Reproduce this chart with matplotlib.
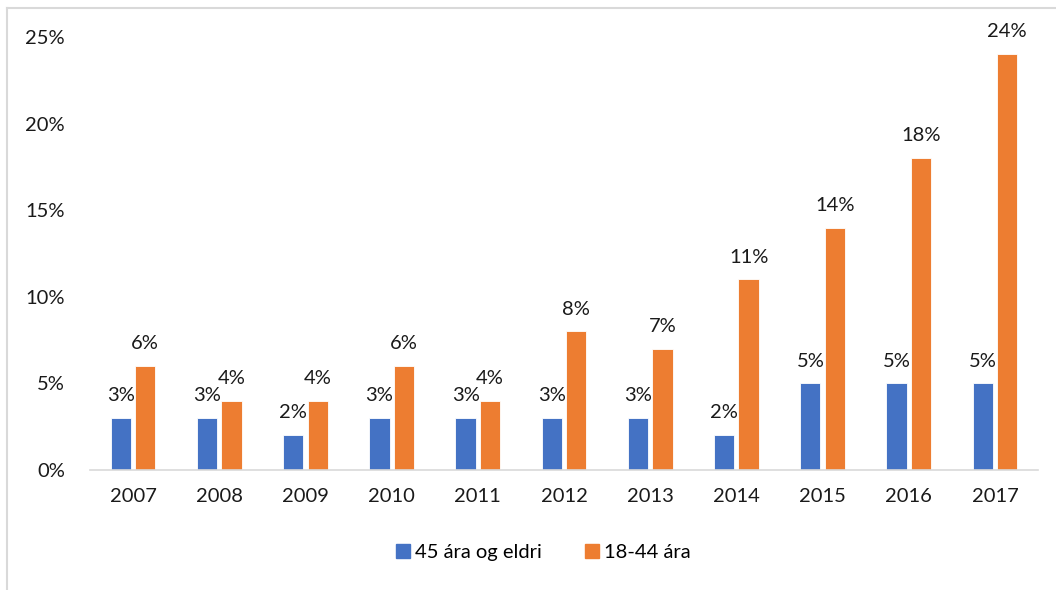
import numpy as np
import matplotlib.pyplot as plt
from matplotlib.lines import Line2D

plt.rcParams['font.family'] = ['Lato', 'DejaVu Sans']

years = ['2007', '2008', '2009', '2010', '2011', '2012', '2013', '2014', '2015', '2016', '2017']
older = [3, 3, 2, 3, 3, 3, 3, 2, 5, 5, 5]        # 45 ára og eldri
younger = [6, 4, 4, 6, 4, 8, 7, 11, 14, 18, 24]  # 18-44 ára
yticks = [0, 5, 10, 15, 20, 25]

blue = '#4472C4'
orange = '#ED7D31'
fs = 14.5

fig = plt.figure(figsize=(10.56, 5.9), dpi=100)
ax = fig.add_axes([0.0852, 0.2034, 0.8978, 0.7339])

x = np.arange(len(years))
w = 0.235
off = 0.142
b1 = ax.bar(x - off, older, w, color=blue, edgecolor='white', linewidth=0.6, label='45 ára og eldri')
b2 = ax.bar(x + off, younger, w, color=orange, edgecolor='white', linewidth=0.6, label='18-44 ára')

for rects, vals in ((b1, older), (b2, younger)):
    for r, v in zip(rects, vals):
        ax.annotate(f'{v}%', (r.get_x() + r.get_width() / 2, v), xytext=(0, 10),
                    textcoords='offset points', ha='center', va='bottom',
                    fontsize=fs, color='#1a1a1a', annotation_clip=False)

ax.set_xlim(-0.5, len(years) - 0.5)
ax.set_ylim(0, 25)
ax.set_yticks(yticks)
ax.set_yticklabels([f'{t}%' for t in yticks])
ax.set_xticks(x)
ax.set_xticklabels(years)
ax.tick_params(length=0, labelsize=fs, labelcolor='#1a1a1a')
ax.tick_params(axis='y', pad=18)
ax.tick_params(axis='x', pad=13)
for s in ('top', 'right', 'left'):
    ax.spines[s].set_visible(False)
ax.spines['bottom'].set_color('#d9d9d9')
ax.spines['bottom'].set_linewidth(1.2)

handles = [Line2D([], [], marker='s', linestyle='none', markersize=10, color=blue),
           Line2D([], [], marker='s', linestyle='none', markersize=10, color=orange)]
fig.legend(handles, ['45 ára og eldri', '18-44 ára'], loc='center', bbox_to_anchor=(0.513, 0.063),
           ncol=2, frameon=False, fontsize=fs, handletextpad=0.1, columnspacing=2.0,
           handlelength=1.0)

# light frame along the top and left edges
fig.add_artist(Line2D([7 / 1056, 7 / 1056], [0, 1 - 8 / 590], color='#d9d9d9', lw=1.5,
                      transform=fig.transFigure))
fig.add_artist(Line2D([7 / 1056, 1], [1 - 8 / 590, 1 - 8 / 590], color='#d9d9d9', lw=1.5,
                      transform=fig.transFigure))

fig.savefig('out.png', dpi=100, facecolor='white')
